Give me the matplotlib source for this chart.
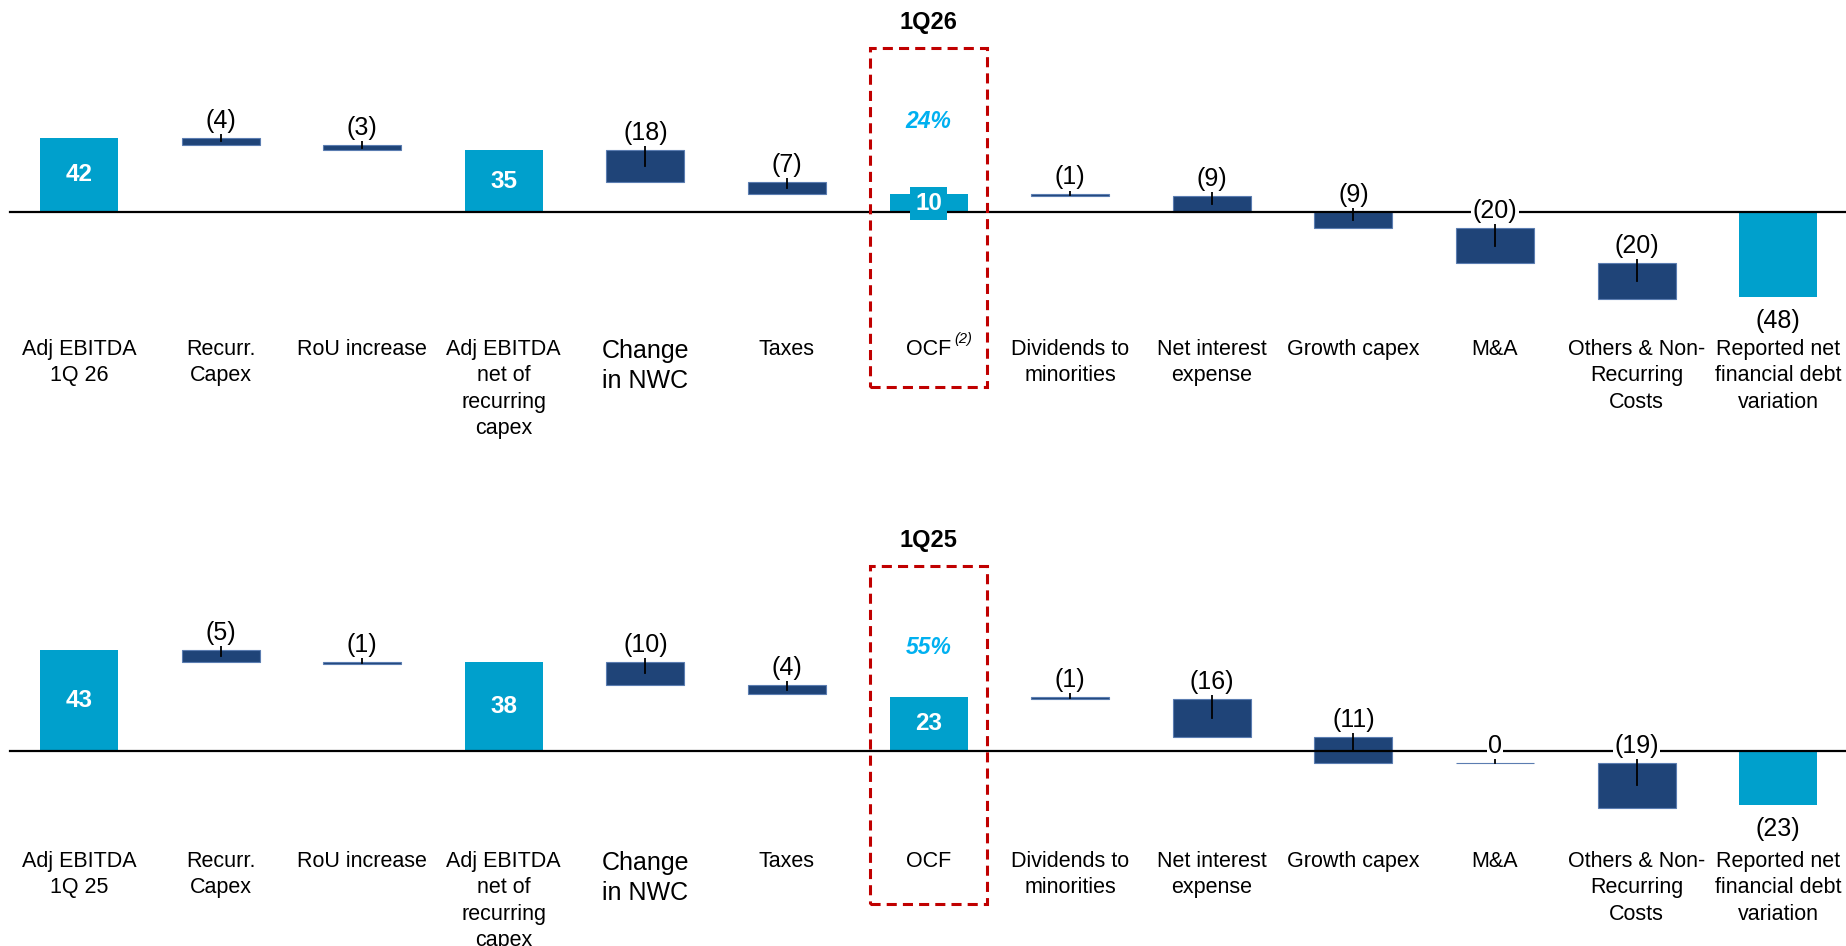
import matplotlib.pyplot as plt
from matplotlib.patches import Rectangle
from matplotlib.transforms import blended_transform_factory

plt.rcParams["font.family"] = "Liberation Sans"

# bridge from Adj EBITDA to reported net financial debt variation
labels_26 = ["Adj EBITDA\n1Q 26", "Recurr.\nCapex", "RoU increase",
             "Adj EBITDA\nnet of\nrecurring\ncapex", "Change\nin NWC", "Taxes",
             "OCF", "Dividends to\nminorities", "Net interest\nexpense",
             "Growth capex", "M&A", "Others & Non-\nRecurring\nCosts",
             "Reported net\nfinancial debt\nvariation"]
labels_25 = ["Adj EBITDA\n1Q 25"] + labels_26[1:]
kinds = ["total", "delta", "delta", "total", "delta", "delta", "total",
         "delta", "delta", "delta", "delta", "delta", "total"]
values_26 = [42, -4, -3, 35, -18, -7, 10, -1, -9, -9, -20, -20, -48]
values_25 = [43, -5, -1, 38, -10, -4, 23, -1, -16, -11, 0, -19, -23]
ocf_conv_26 = "24%"
ocf_conv_25 = "55%"

CYAN = "#00A0CC"
NAVY = "#1F4478"
NAVY_EDGE = "#5B7DB1"
RED = "#C00000"
PCT = "#00B0F0"

W, H = 1846, 946
fig = plt.figure(figsize=(W / 100, H / 100), dpi=100)


def fy(px):
    # pixel row from the top -> figure fraction
    return 1 - px / H


def fmt(v):
    return f"({abs(v)})" if v < 0 else str(v)


def panel(rect, base_px, ppu, cats, vals, title, pct, rows):
    ax = fig.add_axes(rect)
    top_px = (1 - rect[1] - rect[3]) * H
    bot_px = (1 - rect[1]) * H
    ax.set_xlim(-0.558, 12.479)
    ax.set_ylim(-(bot_px - base_px) / ppu, (base_px - top_px) / ppu)
    ax.axis("off")
    off = 5 / ppu
    tr = blended_transform_factory(ax.transData, fig.transFigure)

    running = 0
    for i, (k, v) in enumerate(zip(kinds, vals)):
        if k == "total":
            ax.bar(i, v, width=0.55, color=CYAN, zorder=2)
            running = v
            if v >= 0:
                ax.text(i, v / 2, fmt(v), ha="center", va="center",
                        color="white", fontsize=17.5, fontweight="bold",
                        zorder=6, bbox=dict(boxstyle="square,pad=0.2",
                                            fc=CYAN, ec="none"))
            else:
                ax.text(i, v - 12 / ppu, fmt(v), ha="center", va="top",
                        fontsize=18, zorder=6)
        else:
            start = running
            ax.bar(i, v, bottom=start, width=0.55, color=NAVY,
                   edgecolor=NAVY_EDGE, linewidth=0.8, zorder=2)
            running += v
            top = max(start, running)
            ax.plot([i, i], [start + v / 2, top + off], color="black",
                    lw=1.3, zorder=4)
            ax.text(i, top + off, fmt(v), ha="center", va="bottom",
                    fontsize=18, zorder=6,
                    bbox=dict(boxstyle="square,pad=0.05", fc="white", ec="none"))

    ax.plot([-0.49, 12.479], [0, 0], color="black", lw=1.6, zorder=3)

    for i, c in enumerate(cats):
        big = c.startswith("Change")
        t = ax.text(i, fy(rows[0]), c, transform=tr, ha="center", va="top",
                    fontsize=18 if big else 15.5, linespacing=1.33,
                    clip_on=False)
        if c == "OCF" and title == "1Q26":
            ax.annotate("(2)", xy=(1.0, 1.0), xycoords=t, xytext=(2, 0),
                        textcoords="offset points", ha="left", va="center",
                        fontsize=10.5, style="italic")

    ax.text(6, fy(rows[1]), title, transform=tr, ha="center", va="center",
            fontsize=17, fontweight="bold")
    ax.text(6, fy(rows[2]), pct, transform=tr, ha="center", va="center",
            fontsize=16.5, fontweight="bold", style="italic", color=PCT)
    box_top, box_bot = rows[3]
    ax.add_patch(Rectangle((6 - 0.413, fy(box_bot)), 0.826,
                           (box_bot - box_top) / H, transform=tr, fill=False,
                           edgecolor=RED, lw=2.2, linestyle=(0, (3.3, 2.0)),
                           clip_on=False, zorder=7))
    return ax


panel([0, 0.5, 1, 0.5], 212, 1.766, labels_26, values_26, "1Q26",
      ocf_conv_26, (339, 23, 121, (48, 387)))
panel([0, 0, 1, 0.5], 751, 2.355, labels_25, values_25, "1Q25",
      ocf_conv_25, (851, 540, 648, (566, 904)))

fig.savefig("out.png", dpi=100, facecolor="white")
